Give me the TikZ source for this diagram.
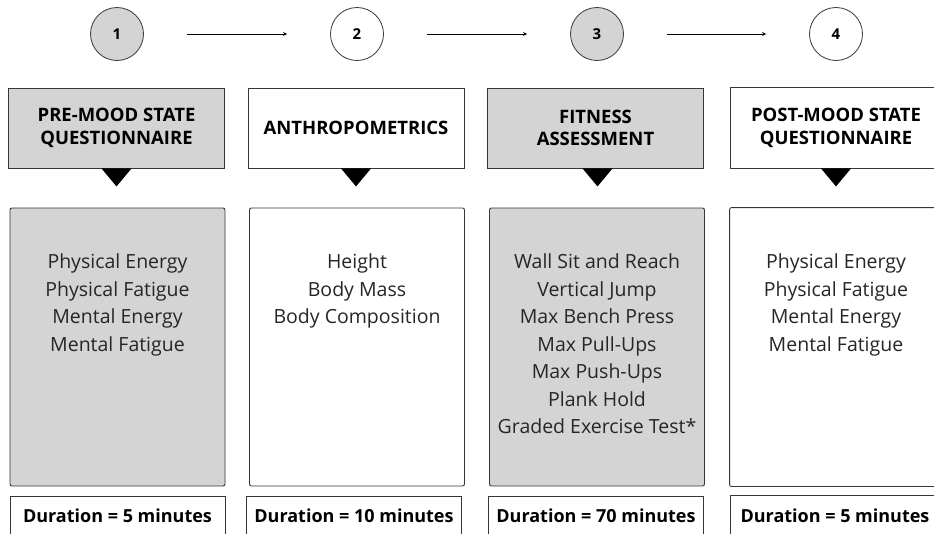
\documentclass[tikz,border=0pt]{standalone}
\usepackage{fontspec}
\setmainfont{Open Sans}
\usepackage{tikz}
\usetikzlibrary{positioning,arrows.meta,calc}

\definecolor{boxgray}{RGB}{212,212,212}
\definecolor{edgegray}{RGB}{55,55,55}

\begin{document}
\begin{tikzpicture}[
  x=1pt, y=-1pt,
  font=\fontsize{15}{18}\selectfont,
  stepnum/.style={
    circle, draw=edgegray, line width=0.8pt,
    minimum size=53pt, inner sep=0pt,
    font=\fontsize{15}{16}\selectfont\bfseries
  },
  header/.style={
    rectangle, draw=edgegray, line width=0.9pt,
    minimum width=216pt, minimum height=80pt,
    align=center, inner sep=0pt,
    font=\fontsize{18.5}{22.5}\selectfont\bfseries
  },
  content/.style={
    rectangle, rounded corners=2pt,
    draw=edgegray, line width=0.9pt,
    minimum width=215pt, minimum height=278pt
  },
  items/.style={anchor=north, align=center, inner sep=0pt, text=black!85,
    font=\fontsize{19.5}{27.5}\selectfont},
  duration/.style={
    rectangle, draw=edgegray, line width=0.9pt,
    minimum width=215pt, minimum height=40pt, inner sep=0pt,
    font=\fontsize{18}{20}\selectfont\bfseries
  },
  border/.style={draw=edgegray, line width=0.9pt},
  shaded/.style={fill=boxgray},
  pointer/.style={fill=black},
  arrow/.style={-{Stealth[length=4pt,width=4pt]}, line width=0.7pt, black,
    shorten <=43pt, shorten >=43pt}
]
\useasboundingbox (0,0) rectangle (934,533);

% --- Step numbers ---
\node[stepnum, shaded] (n1) at (117,34) {1};
\node[stepnum] (n2) at (357,34) {2};
\node[stepnum, shaded] (n3) at (597,34) {3};
\node[stepnum] (n4) at (836,34) {4};

\draw[arrow] (n1) -- (n2);
\draw[arrow] (n2) -- (n3);
\draw[arrow] (n3) -- (n4);

% --- Step headers ---
\node[header, shaded] (h1) at (116.5,128) {PRE-MOOD STATE\\QUESTIONNAIRE};
\node[header] (h2) at (356,128) {ANTHROPOMETRICS};
\node[header, shaded] (h3) at (595.5,128) {FITNESS\\ASSESSMENT};
\node[header, draw=none, minimum width=210pt] (h4) at (836,128) {POST-MOOD STATE\\QUESTIONNAIRE};
% last column runs off the right edge
\draw[border] ([xshift=40pt]h4.north east) -- (h4.north west) -- (h4.south west) -- ([xshift=40pt]h4.south east);

% --- Pointers under headers ---
\fill[pointer] ($(h1.south)+(-15,0)$) -- ++(30,0) -- ++(-15,18) -- cycle;
\fill[pointer] ($(h2.south)+(-15,0)$) -- ++(30,0) -- ++(-15,18) -- cycle;
\fill[pointer] ($(h3.south)+(-13,0)$) -- ++(30,0) -- ++(-15,18) -- cycle;
\fill[pointer] ($(h4.south)+(-15,0)$) -- ++(30,0) -- ++(-15,18) -- cycle;

% --- Measures ---
\node[content, shaded] (c1) at (117.5,347) {};
\node[content] (c2) at (357,347) {};
\node[content, shaded] (c3) at (597,347) {};
\node[content, draw=none, minimum width=212pt] (c4) at (836,347) {};
\draw[border, rounded corners=2pt] ([xshift=40pt]c4.north east) -- (c4.north west) -- (c4.south west) -- ([xshift=40pt]c4.south east);

\node[items] (t1) at ($(c1.north)+(0,46)$) {Physical Energy\\Physical Fatigue\\Mental Energy\\Mental Fatigue};
\node[items] (t2) at ($(c2.north)+(0,46)$) {Height\\Body Mass\\Body Composition};
\node[items] (t3) at ($(c3.north)+(0,46)$) {Wall Sit and Reach\\Vertical Jump\\Max Bench Press\\Max Pull-Ups\\Max Push-Ups\\Plank Hold\\Graded Exercise Test*};
\node[items] (t4) at ($(c4.north)+(0,46)$) {Physical Energy\\Physical Fatigue\\Mental Energy\\Mental Fatigue};

% --- Durations ---
\node[duration] (d1) at (117.5,516) {Duration = 5 minutes};
\node[duration] (d2) at (354,516) {Duration = 10 minutes};
\node[duration] (d3) at (596,516) {Duration = 70 minutes};
\node[duration, draw=none, minimum width=208pt] (d4) at (835,516) {Duration = 5 minutes};
\draw[border] ([xshift=40pt]d4.north east) -- (d4.north west) -- (d4.south west);

\end{tikzpicture}
\end{document}
